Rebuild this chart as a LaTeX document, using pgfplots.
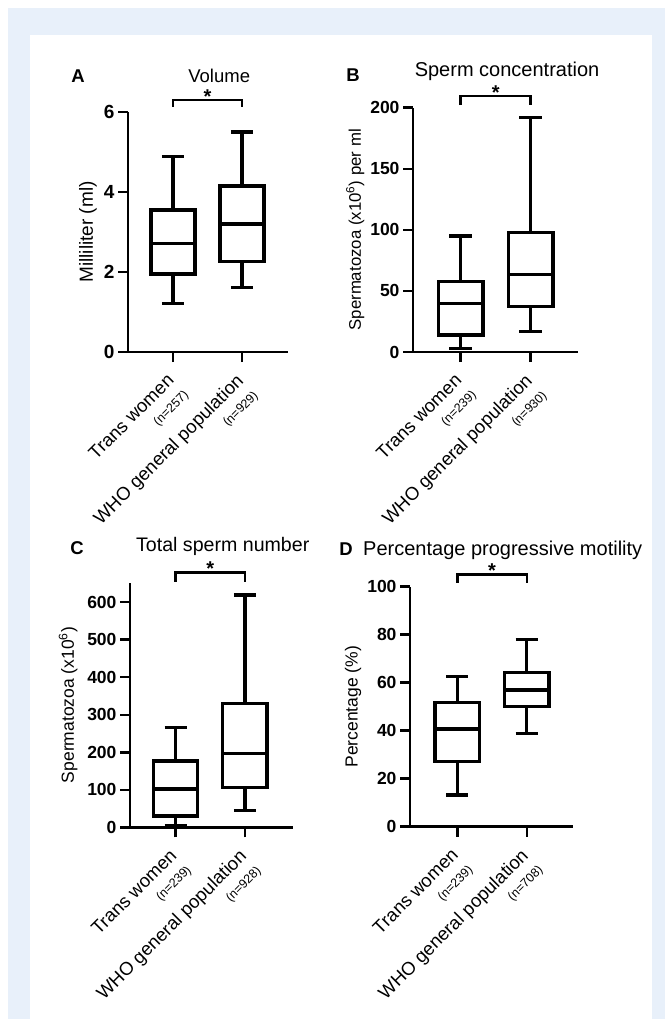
\documentclass[border=0pt]{standalone}
\usepackage{fontspec}
\setmainfont{Liberation Sans}
\usepackage{pgfplots}
\pgfplotsset{compat=1.18}
\usepgfplotslibrary{statistics}
\definecolor{pageblue}{RGB}{232,240,250}

\newcommand{\nsize}{\fontsize{12.5}{14}\selectfont}

\pgfplotsset{
  panel/.style={
    scale only axis, anchor=south west,
    axis lines=left, axis line style={-, line width=2.5pt},
    tick align=outside, major tick length=10pt,
    tick style={line width=2.5pt, black},
    xtick={1,2}, clip=false,
    /pgf/number format/assume math mode=true,
    yticklabel style={font=\bfseries\fontsize{17.5}{17.5}\selectfont},
    xticklabel style={rotate=45, anchor=north east, align=right,
      xshift=-9pt, yshift=1pt, font=\fontsize{18.5}{19}\selectfont},
    ylabel style={font=\fontsize{17.5}{20}\selectfont, anchor=center},
    boxplot/draw direction=y,
    boxplot/box extend=0.64,
    boxplot/whisker extend=0.32,
  },
  bx/.style={black, line width=3.2pt, solid},
}

\newcommand{\ptitle}[2][20]{\node[font=\fontsize{#1}{22}\selectfont, yshift=36pt]
  at (axis description cs:0.57,1) {#2};}
\newcommand{\sig}[2]{% level, drop
  \draw[line width=2.6pt] (axis cs:1,#2) -- (axis cs:1,#1) -- (axis cs:2,#1) -- (axis cs:2,#2);
  \node[anchor=base, yshift=-3pt, font=\bfseries\fontsize{20}{22}\selectfont] at (axis cs:1.5,#1) {*};}

\begin{document}
\begin{tikzpicture}
\useasboundingbox (0,0) rectangle (665pt,-1019pt);
\fill[white] (0,0) rectangle (665pt,-1019pt);
\fill[pageblue] (8pt,-8pt) rectangle (665pt,-1019pt);
\fill[white] (30pt,-35pt) rectangle (652pt,-1019pt);

\node[font=\bfseries\fontsize{18.5}{20}\selectfont] at (78pt,-76pt) {A};
\node[font=\bfseries\fontsize{18.5}{20}\selectfont] at (353pt,-75pt) {B};
\node[font=\bfseries\fontsize{18.5}{20}\selectfont] at (77pt,-548pt) {C};
\node[font=\bfseries\fontsize{18.5}{20}\selectfont] at (346pt,-549pt) {D};

% A: volume
\begin{axis}[panel, at={(128pt,-352pt)}, width=160pt, height=240pt,
  xmin=0.348, xmax=2.667, ymin=0, ymax=6, ytick={0,2,4,6},
  yticklabel style={font=\bfseries\fontsize{19}{19}\selectfont},
  xticklabels={{Trans women\\[1pt]{\nsize(n=257)}},{WHO general population\\[1pt]{\nsize(n=929)}}},
  ylabel={Milliliter (ml)},
  ylabel style={font=\fontsize{19}{20}\selectfont, at={(axis description cs:-0.25,0.5)}}]
\addplot[bx, boxplot prepared={draw position=1, lower whisker=1.22,
  lower quartile=1.95, median=2.71, upper quartile=3.55, upper whisker=4.88}]
  coordinates {};
\addplot[bx, boxplot prepared={draw position=2, lower whisker=1.61,
  lower quartile=2.26, median=3.2, upper quartile=4.15, upper whisker=5.5}]
  coordinates {};
\sig{6.3}{6.13}
\ptitle[18.5]{Volume}
\end{axis}

% B: sperm concentration
\begin{axis}[panel, at={(413pt,-352pt)}, width=165pt, height=244.3pt,
  xmin=0.319, xmax=2.676, ymin=0, ymax=200, ytick={0,50,...,200},
  xticklabels={{Trans women\\[1pt]{\nsize(n=239)}},{WHO general population\\[1pt]{\nsize(n=930)}}},
  ylabel={Spermatozoa (x10\textsuperscript{6}) per ml},
  ylabel style={font=\fontsize{16.8}{20}\selectfont, at={(axis description cs:-0.35,0.5)}}]
\addplot[bx, boxplot prepared={draw position=1, lower whisker=3,
  lower quartile=14, median=39.5, upper quartile=57.5, upper whisker=95}]
  coordinates {};
\addplot[bx, boxplot prepared={draw position=2, lower whisker=16.6,
  lower quartile=37, median=63.6, upper quartile=98, upper whisker=192}]
  coordinates {};
\sig{209.5}{202.2}
\ptitle{Sperm concentration}
\end{axis}

% C: total sperm number
\begin{axis}[panel, at={(130pt,-827.3pt)}, width=162.7pt, height=244.6pt,
  xmin=0.34, xmax=2.69, ymin=0, ymax=652, ytick={0,100,...,600},
  xticklabels={{Trans women\\[1pt]{\nsize(n=239)}},{WHO general population\\[1pt]{\nsize(n=928)}}},
  ylabel={Spermatozoa (x10\textsuperscript{6})},
  ylabel style={at={(axis description cs:-0.38,0.5)}}]
\addplot[bx, boxplot prepared={draw position=1, lower whisker=5,
  lower quartile=30, median=102, upper quartile=177, upper whisker=267}]
  coordinates {};
\addplot[bx, boxplot prepared={draw position=2, lower whisker=44,
  lower quartile=106, median=196, upper quartile=331, upper whisker=619}]
  coordinates {};
\sig{680}{655}
\ptitle[19.6]{Total sperm number}
\end{axis}

% D: progressive motility
\begin{axis}[panel, at={(410pt,-826.7pt)}, width=162.7pt, height=240pt,
  xmin=0.32, xmax=2.66, ymin=0, ymax=100, ytick={0,20,...,100},
  xticklabels={{Trans women\\[1pt]{\nsize(n=239)}},{WHO general population\\[1pt]{\nsize(n=708)}}},
  ylabel={Percentage (\%)},
  ylabel style={at={(axis description cs:-0.35,0.5)}}]
\addplot[bx, boxplot prepared={draw position=1, lower whisker=13.2,
  lower quartile=27.1, median=40.7, upper quartile=51.8, upper whisker=62.5}]
  coordinates {};
\addplot[bx, boxplot prepared={draw position=2, lower whisker=38.9,
  lower quartile=50, median=57, upper quartile=64.2, upper whisker=78}]
  coordinates {};
\sig{105.2}{101.7}
\ptitle{Percentage progressive motility}
\end{axis}
\end{tikzpicture}
\end{document}
